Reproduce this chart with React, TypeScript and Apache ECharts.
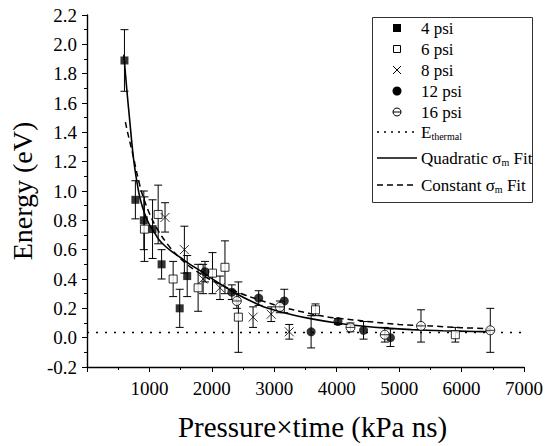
import React, { useEffect, useRef } from "react";
import * as echarts from "echarts";

// [pressure×time (kPa ns), energy (eV), error (eV)]
const psi4: number[][] = [
  [600, 1.89, 0.21], [775, 0.94, 0.13], [910, 0.80, 0.2], [1050, 0.74, 0.2],
  [1195, 0.50, 0.1], [1485, 0.20, 0.13], [1605, 0.42, 0.14],
];
const psi6: number[][] = [
  [920, 0.74, 0.22], [1140, 0.84, 0.2], [1380, 0.40, 0.12], [1780, 0.34, 0.16],
  [2010, 0.44, 0.14], [2210, 0.48, 0.18], [2425, 0.14, 0.24], [3660, 0.19, 0.04],
  [5900, 0.02, 0.05],
];
const psi8: number[][] = [
  [1250, 0.82, 0.1], [1560, 0.60, 0.16], [1860, 0.40, 0.1], [2130, 0.34, 0.08],
  [2660, 0.14, 0.07], [2950, 0.16, 0.05], [3240, 0.04, 0.05],
];
const psi12: number[][] = [
  [1890, 0.45, 0.07], [2320, 0.31, 0.05], [2750, 0.27, 0.05], [3160, 0.25, 0.08],
  [3590, 0.04, 0.11], [4020, 0.11, 0.02], [4430, 0.05, 0.06], [4860, 0.00, 0.06],
];
const psi16: number[][] = [
  [2400, 0.25, 0.05], [3090, 0.21, 0.04], [4220, 0.07, 0.03], [4770, 0.02, 0.05],
  [5350, 0.08, 0.11], [6460, 0.05, 0.15],
];

const eThermal = 0.035;
const thermalLine: number[][] = [[0, eThermal], [7000, eThermal]];

const quadraticFit: number[][] = [
  [590, 1.93], [640, 1.68], [680, 1.50], [740, 1.24], [800, 1.06], [850, 0.95],
  [920, 0.85], [1000, 0.77], [1060, 0.73], [1150, 0.67], [1250, 0.625],
  [1350, 0.59], [1500, 0.545], [1650, 0.50], [1840, 0.45], [2100, 0.375],
  [2370, 0.305], [2700, 0.235], [2900, 0.20], [3300, 0.155], [3600, 0.128],
  [4000, 0.10], [4400, 0.08], [4800, 0.065], [5200, 0.055], [5700, 0.047],
  [6200, 0.042], [6460, 0.04],
];
const constantFit: number[][] = [
  [615, 1.47], [650, 1.40], [700, 1.31], [750, 1.22], [800, 1.12], [870, 1.0],
  [950, 0.90], [1050, 0.80], [1200, 0.69], [1400, 0.58], [1600, 0.50],
  [1800, 0.44], [2000, 0.39], [2300, 0.33], [2600, 0.28], [3000, 0.225],
  [3300, 0.19], [3800, 0.145], [4400, 0.115], [5000, 0.09], [5500, 0.08],
  [6000, 0.068], [6460, 0.062],
];

const seriesNames = ["4 psi", "6 psi", "8 psi", "12 psi", "16 psi"];

const FONT = "'Liberation Serif', 'Times New Roman', serif";
const X_SYMBOL = "path://M0,0L10,10M10,0L0,10";
const THETA_SYMBOL = "path://M0,10A10,10,0,1,1,20,10A10,10,0,1,1,0,10ZM0,10L20,10";

export default function App() {
  const ref = useRef<HTMLDivElement>(null);

  useEffect(() => {
    if (!ref.current) return;
    const chart = echarts.init(ref.current, undefined, { renderer: "svg" });

    const allErr = [...psi4, ...psi6, ...psi8, ...psi12, ...psi16];

    const scatter = (name: string, data: number[][], symbol: string, size: number, style: any) => ({
      name,
      type: "scatter",
      data: data.map((d) => [d[0], d[1]]),
      symbol,
      symbolSize: size,
      itemStyle: style,
      z: 4,
      silent: true,
    });

    const Z = 101;
    const legendItems: any[] = [];
    const lx = 397;
    const tx = 421;
    const rows = [28, 49, 70, 91, 112];
    const textEl = (t: string, y: number) => ({
      type: "text",
      z: Z,
      style: {
        text: t, x: tx, y, fill: "#000",
        fontSize: 17, fontFamily: FONT,
        verticalAlign: "middle", textVerticalAlign: "middle",
      },
    });
    legendItems.push({
      type: "rect", z: 100,
      shape: { x: 372.5, y: 17.5, width: 160, height: 185 },
      style: { fill: "#fff", stroke: "#333", lineWidth: 1 },
    });
    // 4 psi
    legendItems.push({ type: "rect", z: Z, shape: { x: lx - 4, y: rows[0] - 4, width: 8, height: 8 }, style: { fill: "#000" } });
    legendItems.push(textEl("4 psi", rows[0]));
    // 6 psi
    legendItems.push({ type: "rect", z: Z, shape: { x: lx - 3.5, y: rows[1] - 3.5, width: 7, height: 7 }, style: { fill: "#fff", stroke: "#000", lineWidth: 1 } });
    legendItems.push(textEl("6 psi", rows[1]));
    // 8 psi
    legendItems.push({ type: "line", z: Z, shape: { x1: lx - 4, y1: rows[2] - 4, x2: lx + 4, y2: rows[2] + 4 }, style: { stroke: "#000", lineWidth: 1 } });
    legendItems.push({ type: "line", z: Z, shape: { x1: lx + 4, y1: rows[2] - 4, x2: lx - 4, y2: rows[2] + 4 }, style: { stroke: "#000", lineWidth: 1 } });
    legendItems.push(textEl("8 psi", rows[2]));
    // 12 psi
    legendItems.push({ type: "circle", z: Z, shape: { cx: lx, cy: rows[3], r: 4.5 }, style: { fill: "#000" } });
    legendItems.push(textEl("12 psi", rows[3]));
    // 16 psi
    legendItems.push({ type: "circle", z: Z, shape: { cx: lx, cy: rows[4], r: 4 }, style: { fill: "#fff", stroke: "#000", lineWidth: 1 } });
    legendItems.push({ type: "line", z: Z + 1, shape: { x1: lx - 4, y1: rows[4], x2: lx + 4, y2: rows[4] }, style: { stroke: "#000", lineWidth: 1 } });
    legendItems.push(textEl("16 psi", rows[4]));

    const rich = {
      a: { fontSize: 17, fontFamily: FONT, lineHeight: 18, fill: "#000", color: "#000" },
      s: { fontSize: 10, fontFamily: FONT, lineHeight: 4, verticalAlign: "bottom", fill: "#000", color: "#000" },
    };
    const lineRows = [132, 158, 185];
    const lineDash = [[2, 5], null, [6, 4]];
    const lineTexts = ["{a|E}{s|thermal}", "{a|Quadratic σ}{s|m}{a| Fit}", "{a|Constant σ}{s|m}{a| Fit}"];
    lineRows.forEach((y, i) => {
      legendItems.push({
        type: "line", z: Z,
        shape: { x1: 377, y1: y, x2: 417, y2: y },
        style: { stroke: "#000", lineWidth: 1.5, lineDash: lineDash[i] || undefined },
      });
      legendItems.push({
        type: "text", z: Z,
        style: {
          text: lineTexts[i], x: tx, y, rich, fill: "#000",
          fontSize: 17, fontFamily: FONT,
          verticalAlign: "middle", textVerticalAlign: "middle",
        },
      });
    });

    chart.setOption({
      animation: false,
      backgroundColor: "#fff",
      textStyle: { fontFamily: FONT },
      grid: { left: 87, right: 22, top: 15, bottom: 77 },
      xAxis: {
        type: "value",
        min: 0,
        max: 7000,
        interval: 1000,
        name: "Pressure×time (kPa ns)",
        nameLocation: "middle",
        nameGap: 45,
        nameTextStyle: { fontFamily: FONT, fontSize: 29, color: "#000", padding: [0, 0, 0, 14] },
        axisLine: { show: true, onZero: false, lineStyle: { color: "#000", width: 1.4 } },
        axisTick: { show: true, inside: false, length: 5, lineStyle: { color: "#000" } },
        minorTick: { show: true, splitNumber: 2, length: 3, lineStyle: { color: "#000" } },
        splitLine: { show: false },
        axisLabel: {
          fontFamily: FONT, fontSize: 19, color: "#000", margin: 12,
          formatter: (v: number) => (v === 0 ? "" : String(v)),
        },
      },
      yAxis: {
        type: "value",
        min: -0.2,
        max: 2.2,
        interval: 0.2,
        name: "Energy (eV)",
        nameLocation: "middle",
        nameRotate: 90,
        nameGap: 48,
        nameTextStyle: { fontFamily: FONT, fontSize: 28, color: "#000" },
        axisLine: { show: true, onZero: false, lineStyle: { color: "#000", width: 1.4 } },
        axisTick: { show: true, inside: false, length: 5, lineStyle: { color: "#000" } },
        minorTick: { show: true, splitNumber: 2, length: 3, lineStyle: { color: "#000" } },
        splitLine: { show: false },
        axisLabel: {
          fontFamily: FONT, fontSize: 19, color: "#000", margin: 10,
          formatter: (v: number) => v.toFixed(1),
        },
      },
      graphic: legendItems,
      series: [
        {
          name: "E_thermal",
          type: "line",
          data: thermalLine,
          symbol: "none",
          lineStyle: { color: "#000", width: 1.5, type: [2, 7] },
          z: 1,
          silent: true,
        },
        {
          name: "Quadratic σm Fit",
          type: "line",
          data: quadraticFit,
          smooth: 0.3,
          symbol: "none",
          lineStyle: { color: "#000", width: 1.6 },
          z: 2,
          silent: true,
        },
        {
          name: "Constant σm Fit",
          type: "line",
          data: constantFit,
          smooth: 0.3,
          symbol: "none",
          lineStyle: { color: "#000", width: 1.5, type: [6, 4] },
          z: 2,
          silent: true,
        },
        {
          name: "error bars",
          type: "custom",
          data: allErr,
          encode: { x: 0, y: 1 },
          z: 3,
          silent: true,
          renderItem: (_params: any, api: any) => {
            const x = api.value(0);
            const y = api.value(1);
            const e = api.value(2);
            const top = api.coord([x, y + e]);
            const bot = api.coord([x, y - e]);
            const hw = 4;
            const st = { stroke: "#000", lineWidth: 1 };
            return {
              type: "group",
              children: [
                { type: "line", shape: { x1: top[0], y1: top[1], x2: bot[0], y2: bot[1] }, style: st },
                { type: "line", shape: { x1: top[0] - hw, y1: top[1], x2: top[0] + hw, y2: top[1] }, style: st },
                { type: "line", shape: { x1: bot[0] - hw, y1: bot[1], x2: bot[0] + hw, y2: bot[1] }, style: st },
              ],
            };
          },
        },
        scatter(seriesNames[0], psi4, "rect", 8, { color: "#000" }),
        scatter(seriesNames[1], psi6, "rect", 8, { color: "#fff", borderColor: "#000", borderWidth: 1 }),
        scatter(seriesNames[2], psi8, X_SYMBOL, 9, { color: "none", borderColor: "#000", borderWidth: 1 }),
        scatter(seriesNames[3], psi12, "circle", 9, { color: "#000" }),
        scatter(seriesNames[4], psi16, THETA_SYMBOL, 9, { color: "#fff", borderColor: "#000", borderWidth: 1 }),
      ],
    });

    return () => chart.dispose();
  }, []);

  return <div ref={ref} style={{ position: "fixed", left: 0, top: 0, width: 546, height: 446 }} />;
}
